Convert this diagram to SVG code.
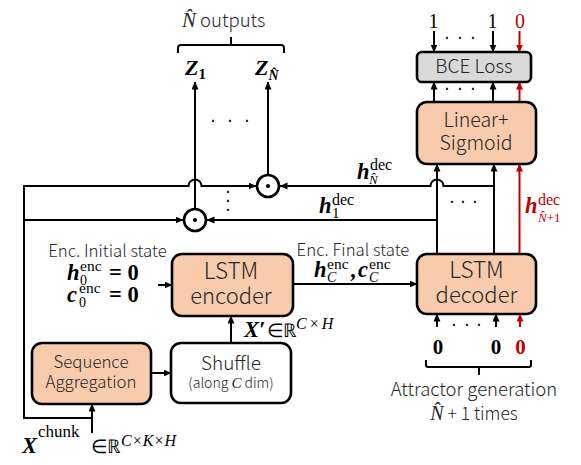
<svg xmlns="http://www.w3.org/2000/svg" width="581" height="465" viewBox="0 0 581 465">
<style>
.box{stroke:#000;stroke-width:2.6}
.peach{fill:#f8cbad}
.gray{fill:#d9d9d9}
.white{fill:#fff}
.ln{fill:none;stroke:#000;stroke-width:2}
.rd{stroke:#c00000}
.sans{font-family:"Noto Sans CJK JP Light","Noto Sans CJK JP","Noto Sans",sans-serif;font-weight:300;fill:#262626}
.m{font-family:"Liberation Serif",serif;font-weight:bold;font-style:italic;fill:#000}
.up{font-family:"Liberation Serif",serif;font-weight:normal;font-style:normal}
.ub{font-family:"Liberation Serif",serif;font-weight:bold;font-style:normal}
.mi{font-family:"Liberation Serif",serif;font-weight:normal;font-style:italic}
.dots{font-family:"DejaVu Sans",sans-serif;font-size:17px;text-anchor:middle;fill:#000}
.ctr{text-anchor:middle}
.redt{fill:#c00000}
</style>
<defs>
<marker id="ah" markerUnits="userSpaceOnUse" markerWidth="8" markerHeight="8" refX="7.5" refY="3.5" orient="auto">
<path d="M0,0 L8,3.5 L0,7 z" fill="#000"/>
</marker>
<marker id="ahr" markerUnits="userSpaceOnUse" markerWidth="8" markerHeight="8" refX="7.5" refY="3.5" orient="auto">
<path d="M0,0 L8,3.5 L0,7 z" fill="#c00000"/>
</marker>
</defs>
<rect width="581" height="465" fill="#fff"/>

<g id="connectors">
<path class="ln" d="M434,31 L434,52" marker-end="url(#ah)"/>
<path class="ln" d="M493,31 L493,52" marker-end="url(#ah)"/>
<path class="ln rd" d="M519.5,31 L519.5,52" marker-end="url(#ahr)"/>
<path class="ln" d="M434,102 L434,82" marker-end="url(#ah)"/>
<path class="ln" d="M493,102 L493,82" marker-end="url(#ah)"/>
<path class="ln rd" d="M519.5,102 L519.5,82" marker-end="url(#ahr)"/>
<path class="ln" d="M437,254 L437,164" marker-end="url(#ah)"/>
<path class="ln" d="M494,254 L494,164" marker-end="url(#ah)"/>
<path class="ln rd" d="M519.5,254 L519.5,164" marker-end="url(#ahr)"/>
<path class="ln" d="M494,186 L443.5,186 A6.5,6.5 0 0 0 430.5,186 L280,186" marker-end="url(#ah)"/>
<path class="ln" d="M437,220 L207,220" marker-end="url(#ah)"/>
<path class="ln" d="M268,175 L268,82" marker-end="url(#ah)"/>
<path class="ln" d="M195,209 L195,82" marker-end="url(#ah)"/>
<path class="ln" d="M92,418 L24,418 L24,186 L188.5,186 A6.5,6.5 0 0 1 201.5,186 L256,186" marker-end="url(#ah)"/>
<path class="ln" d="M24,220 L183,220" marker-end="url(#ah)"/>
<path class="ln" d="M92,433 L92,404" marker-end="url(#ah)"/>
<path class="ln" d="M151,373 L171,373" marker-end="url(#ah)"/>
<path class="ln" d="M231,343 L231,316" marker-end="url(#ah)"/>
<path class="ln" d="M158,285 L172,285" marker-end="url(#ah)"/>
<path class="ln" d="M293,284 L417,284" marker-end="url(#ah)"/>
<path class="ln" d="M437,327 L437,314" marker-end="url(#ah)"/>
<path class="ln" d="M496,327 L496,314" marker-end="url(#ah)"/>
<path class="ln rd" d="M520,327 L520,314" marker-end="url(#ahr)"/>
</g>

<g id="brace-top">
<path class="ln" d="M178,53 L178,48 Q178,45 181,45 L281,45 Q284,45 284,48 L284,53 M231,45 L231,37"/>
<text class="sans" font-size="18.5" x="182" y="27"><tspan class="mi" font-size="21">N&#x302;</tspan> outputs</text>
</g>

<g id="outputs">
<text class="m" font-size="22" x="185" y="75">Z<tspan class="ub" font-size="15" y="79">1</tspan></text>
<text class="m" font-size="22" x="255" y="75">Z<tspan font-size="14" y="80">N&#x302;</tspan></text>
<text class="dots" x="213 230 247" y="127">···</text>
<text class="dots" x="228 228 228" y="198 207 216">···</text>
</g>

<g id="prodN">
<circle cx="268" cy="186" r="11" fill="#fff" stroke="#000" stroke-width="2.6"/>
<circle cx="268" cy="186" r="2" fill="#000"/>
</g>
<g id="prod1">
<circle cx="195" cy="220" r="11" fill="#fff" stroke="#000" stroke-width="2.6"/>
<circle cx="195" cy="220" r="2" fill="#000"/>
</g>

<g id="bce">
<rect class="box gray" x="417" y="52" width="114" height="30" rx="5"/>
<text class="sans ctr" font-size="19" x="474" y="73">BCE Loss</text>
<text class="up ctr" font-size="20" x="433.5" y="28">1</text>
<text class="up ctr" font-size="20" x="492.5" y="28">1</text>
<text class="up ctr redt" font-size="20" x="520" y="28">0</text>
<text class="dots" x="447 460 473" y="44">···</text>
<text class="dots" x="447 460 473" y="95">···</text>
</g>

<g id="linear">
<rect class="box peach" x="417" y="102" width="119" height="62" rx="10"/>
<text class="sans ctr" font-size="19.5" x="476" y="127">Linear+</text>
<text class="sans ctr" font-size="19.5" x="476" y="150">Sigmoid</text>
</g>

<g id="hlabels">
<text class="m" font-size="22.5" x="357" y="179">h<tspan class="up" font-size="16" x="370" y="170">dec</tspan><tspan class="mi" font-size="13" x="369" y="184">N&#x302;</tspan></text>
<text class="m" font-size="22.5" x="319" y="213">h<tspan class="up" font-size="16" x="332" y="205">dec</tspan><tspan class="up" font-size="15" x="332" y="218">1</tspan></text>
<text class="m redt" font-size="22.5" x="525" y="213">h<tspan class="up" font-size="16" x="538" y="205">dec</tspan><tspan class="mi" font-size="13" x="538" y="222">N&#x302;</tspan><tspan class="up" font-size="13">+1</tspan></text>
<text class="dots" x="452 463 475" y="208">···</text>
</g>

<g id="decoder">
<rect class="box peach" x="417" y="254" width="119" height="60" rx="10"/>
<text class="sans ctr" font-size="22.5" x="476.5" y="278">LSTM</text>
<text class="sans ctr" font-size="22" x="476.5" y="303">decoder</text>
</g>

<g id="dec-inputs">
<text class="ub ctr" font-size="21" x="438" y="354">0</text>
<text class="ub ctr" font-size="21" x="496" y="354">0</text>
<text class="ub ctr redt" font-size="21" x="520.5" y="354">0</text>
<text class="dots" x="454 467 479" y="331">···</text>
<path class="ln" d="M426,360 L426,365 Q426,367 428,367 L529,367 Q531,367 531,365 L531,360 M479,367 L479,375"/>
<text class="sans ctr" font-size="18.5" x="474" y="396">Attractor generation</text>
<text class="sans ctr" font-size="17.5" x="474" y="420"><tspan class="mi" font-size="20">N&#x302;</tspan> + 1 times</text>
</g>

<g id="encoder">
<rect class="box peach" x="172" y="254" width="121" height="62" rx="10"/>
<text class="sans ctr" font-size="22.5" x="231" y="279">LSTM</text>
<text class="sans ctr" font-size="22" x="231" y="304">encoder</text>
</g>

<g id="enc-init">
<text class="sans ctr" font-size="16.8" x="107.5" y="257">Enc. Initial state</text>
<text class="m" font-size="22.5" x="67" y="280">h<tspan class="up" font-size="15.5" x="80" y="271">enc</tspan><tspan class="up" font-size="14" x="80" y="285">0</tspan><tspan class="ub" x="109" y="280">= 0</tspan></text>
<text class="m" font-size="22.5" x="67" y="302">c<tspan class="up" font-size="15.5" x="79" y="293">enc</tspan><tspan class="up" font-size="14" x="79" y="307">0</tspan><tspan class="ub" x="109" y="302">= 0</tspan></text>
</g>

<g id="enc-final">
<text class="sans ctr" font-size="16.8" x="353" y="256">Enc. Final state</text>
<text class="m" font-size="22.5" x="314" y="277">h<tspan class="up" font-size="15.5" x="327" y="269">enc</tspan><tspan class="mi" font-size="14" x="327" y="282">C</tspan><tspan x="351" y="277">,</tspan><tspan x="358" y="277">c</tspan><tspan class="up" font-size="15.5" x="369" y="269">enc</tspan><tspan class="mi" font-size="14" x="369" y="282">C</tspan></text>
</g>

<g id="xprime">
<text class="m" font-size="22.5" x="244" y="337">X′<tspan class="up" font-size="19" x="267" y="337">∈</tspan><tspan class="up" font-size="19" x="283" y="337">ℝ</tspan><tspan class="mi" font-size="16" x="296" y="329">C</tspan><tspan class="up" font-size="16" dx="3">×</tspan><tspan class="mi" font-size="16" dx="3">H</tspan></text>
</g>

<g id="seqagg">
<rect class="box peach" x="32" y="343" width="119" height="61" rx="10"/>
<text class="sans ctr" font-size="16.8" x="91" y="368">Sequence</text>
<text class="sans ctr" font-size="16.8" x="91" y="388">Aggregation</text>
</g>

<g id="shuffle">
<rect class="box white" x="171" y="343" width="120" height="60" rx="10"/>
<text class="sans ctr" font-size="19" x="231" y="370">Shuffle</text>
<text class="sans ctr" font-size="14" x="231" y="388">(along <tspan class="mi" font-size="15">C</tspan> dim)</text>
</g>

<g id="xchunk">
<text class="m" font-size="22.5" x="22" y="453">X<tspan class="up" font-size="17" x="38" y="437">chunk</tspan><tspan class="up" font-size="19" x="91" y="453">∈</tspan><tspan class="up" font-size="19" x="107" y="453">ℝ</tspan><tspan class="mi" font-size="16" x="121" y="446">C</tspan><tspan class="up" font-size="16" dx="1">×</tspan><tspan class="mi" font-size="16" dx="1">K</tspan><tspan class="up" font-size="16" dx="1">×</tspan><tspan class="mi" font-size="16" dx="1">H</tspan></text>
</g>
</svg>
